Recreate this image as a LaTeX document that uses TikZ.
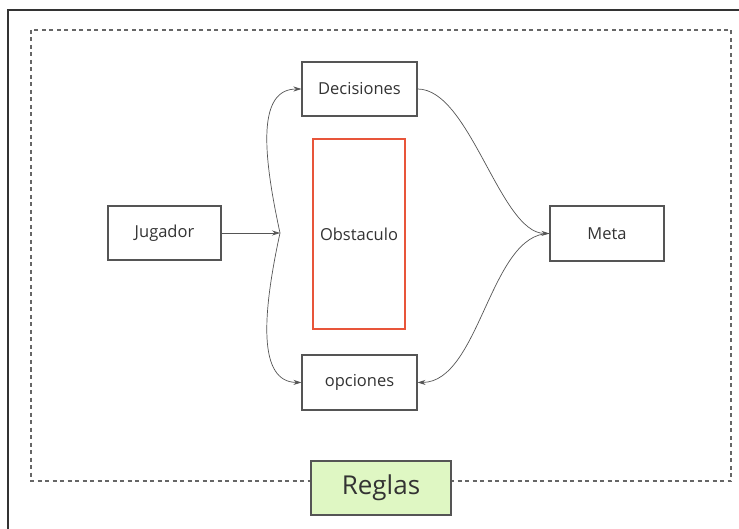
\documentclass[tikz,border=0pt]{standalone}
\usepackage{fontspec}
\setmainfont{Open Sans}
\usetikzlibrary{arrows.meta}
\definecolor{txt}{HTML}{333333}
\definecolor{bord}{HTML}{555555}
\definecolor{dashgray}{HTML}{666666}
\definecolor{obst}{HTML}{E8553A}
\definecolor{rules}{HTML}{DFF7C3}
\tikzset{
  box/.style={draw=bord, line width=1.1pt, rectangle, minimum width=115pt, minimum height=54pt, inner sep=0pt, text=txt, font=\fontsize{16.5}{19}\selectfont, fill=white},
  conn/.style={draw=bord, line width=0.7pt, -{Stealth[length=8pt,width=5pt]}},
  frameline/.style={draw=dashgray, line width=1.2pt, dash pattern=on 4pt off 3.5pt}
}
\begin{document}
\begin{tikzpicture}[x=1pt,y=-1pt]
\useasboundingbox (0,0) rectangle (739,529);
\fill[white] (0,0) rectangle (739,529);
\draw[line width=2.2pt, draw=txt] (8,529) -- (8,10) -- (739,10);
\draw[frameline] (31,30) rectangle (731,481);
\node[box] (dec) at (359.5,89) {Decisiones};
\node[box, draw=obst, line width=1.8pt, minimum width=92pt, minimum height=190pt, fill=none] (obs) at (359,234) {Obstaculo};
\node[box, minimum width=113pt] (jug) at (164.5,233) {Jugador};
\node[box, minimum width=114pt, minimum height=55pt] (meta) at (607,233.5) {Meta};
\node[box, minimum height=55pt] (opc) at (359.5,382.5) {opciones};
\node[box, fill=rules, minimum width=140pt, minimum height=54pt, font=\fontsize{26}{30}\selectfont] (reg) at (381,488) {Reglas};
\coordinate (j) at (280,233);
\draw[conn] (jug.east) -- (j);
\draw[conn] (j) .. controls (262,150) and (258,89) .. (dec.west);
\draw[conn] (j) .. controls (262,316) and (258,382) .. (opc.west);
\draw[conn] (dec.east) .. controls (470,89) and (500,233) .. (meta.west);
\draw[conn] (meta.west) .. controls (490,233) and (480,382) .. (opc.east);
\end{tikzpicture}
\end{document}
